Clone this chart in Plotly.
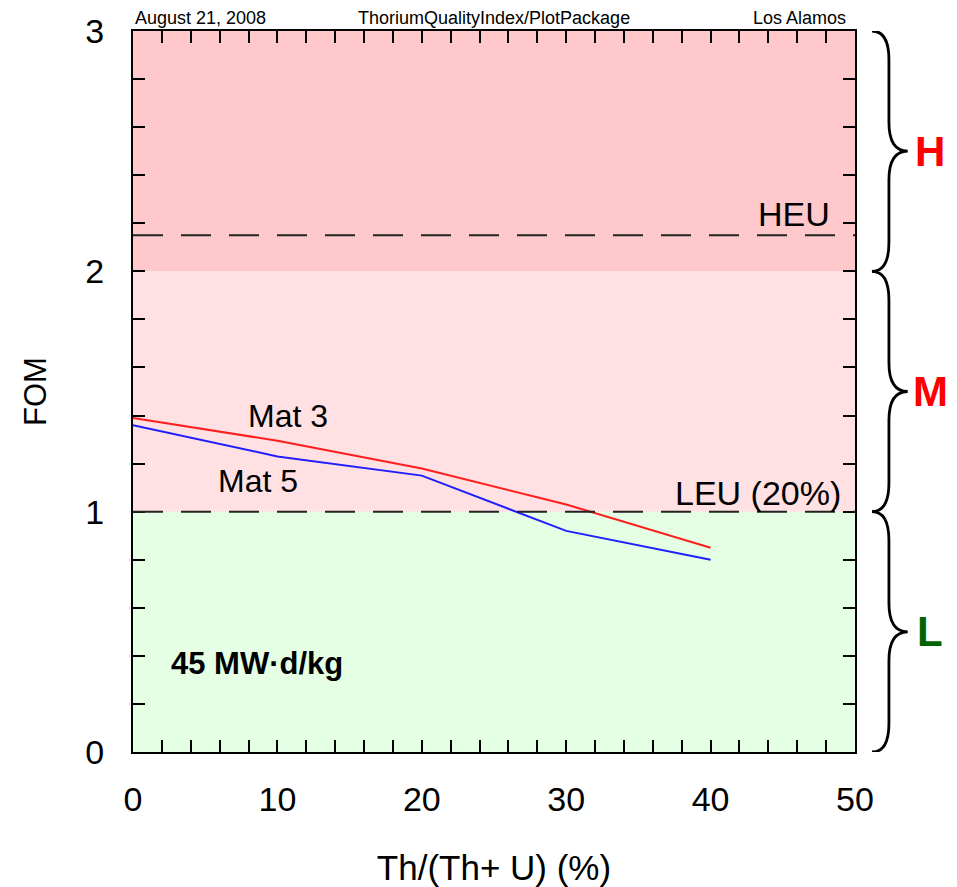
import plotly.graph_objects as go

# ---- data ----
th_frac = [0, 10, 20, 30, 40]
mat3_fom = [1.39, 1.295, 1.18, 1.03, 0.85]
mat5_fom = [1.36, 1.23, 1.15, 0.92, 0.80]

region_bounds = [0, 1, 2, 3]
region_labels = ["L", "M", "H"]
region_colors = ["rgb(228,255,228)", "rgb(255,224,227)", "rgb(255,200,202)"]
region_label_colors = ["#006400", "#FF0000", "#FF0000"]

heu_level = 2.15
leu_level = 1.0

x_ticks = [0, 10, 20, 30, 40, 50]
y_ticks = [0, 1, 2, 3]

NARROW = "Liberation Sans Narrow, Arial Narrow, Liberation Sans, Arial"
SANS = "Liberation Sans, Arial, Helvetica, sans-serif"

fig = go.Figure()

fig.add_trace(go.Scatter(x=th_frac, y=mat3_fom, mode="lines",
                         line=dict(color="rgb(255,30,30)", width=2),
                         name="Mat 3", showlegend=False))
fig.add_trace(go.Scatter(x=th_frac, y=mat5_fom, mode="lines",
                         line=dict(color="rgb(30,30,255)", width=2),
                         name="Mat 5", showlegend=False))

shapes = []
for i in range(3):
    shapes.append(dict(type="rect", xref="paper", yref="y", x0=0, x1=1,
                       y0=region_bounds[i], y1=region_bounds[i + 1],
                       fillcolor=region_colors[i], line=dict(width=0), layer="below"))
for lvl in [heu_level, leu_level]:
    shapes.append(dict(type="line", xref="paper", yref="y", x0=0, x1=1, y0=lvl, y1=lvl,
                       line=dict(color="#222", width=2, dash="30px,18px")))

# braces
bx0, bx1, bx2 = 1.0235, 1.047, 1.073
r = 0.12
for i in range(3):
    y0 = region_bounds[i]
    y1 = region_bounds[i + 1]
    ym = (y0 + y1) / 2
    path = (f"M {bx0},{y1} Q {bx1},{y1} {bx1},{y1 - r} "
            f"L {bx1},{ym + r} Q {bx1},{ym} {bx2},{ym} "
            f"Q {bx1},{ym} {bx1},{ym - r} "
            f"L {bx1},{y0 + r} Q {bx1},{y0} {bx0},{y0}")
    shapes.append(dict(type="path", xref="paper", yref="y", path=path,
                       line=dict(color="black", width=2.8)))

annotations = []
for i in range(3):
    annotations.append(dict(xref="paper", yref="y", x=1.104,
                            y=(region_bounds[i] + region_bounds[i + 1]) / 2,
                            text=f"<b>{region_labels[i]}</b>", showarrow=False,
                            font=dict(family=SANS, size=42, color=region_label_colors[i]),
                            xanchor="center", yanchor="middle"))

annotations += [
    dict(x=10.7, y=1.40, text="Mat 3", showarrow=False,
         font=dict(family=SANS, size=32, color="black")),
    dict(x=8.66, y=1.127, text="Mat 5", showarrow=False,
         font=dict(family=SANS, size=32, color="black")),
    dict(x=45.8, y=2.24, text="HEU", showarrow=False,
         font=dict(family=SANS, size=34, color="black")),
    dict(x=43.3, y=1.077, text="LEU (20%)", showarrow=False,
         font=dict(family=SANS, size=34, color="black")),
    dict(x=8.6, y=0.37, text="<b>45 MW·d/kg</b>", showarrow=False,
         font=dict(family=SANS, size=31, color="black")),
    dict(xref="paper", yref="paper", x=0, y=1.0, yshift=1, text="August 21, 2008",
         showarrow=False, xanchor="left", yanchor="bottom",
         font=dict(family=SANS, size=18, color="black")),
    dict(xref="paper", yref="paper", x=0.5, y=1.0, yshift=1,
         text="ThoriumQualityIndex/PlotPackage",
         showarrow=False, xanchor="center", yanchor="bottom",
         font=dict(family=SANS, size=18, color="black")),
    dict(xref="paper", yref="paper", x=0.99, y=1.0, yshift=1, text="Los Alamos",
         showarrow=False, xanchor="right", yanchor="bottom",
         font=dict(family=SANS, size=18, color="black")),
]

# the page body adds an 8px offset, so size and margins are reduced accordingly
fig.update_layout(
    width=949, height=879,
    margin=dict(l=125, r=102, t=23, b=135, autoexpand=False),
    plot_bgcolor="white", paper_bgcolor="white",
    shapes=shapes, annotations=annotations,
    xaxis=dict(range=[0, 50], tickvals=x_ticks, ticktext=[str(v) for v in x_ticks],
               showgrid=False, zeroline=False, automargin=False,
               showline=True, linecolor="black", linewidth=2, mirror="ticks",
               ticks="inside", ticklen=12, tickwidth=1.5, tickcolor="black",
               minor=dict(dtick=2, ticks="inside", ticklen=12, tickwidth=1.5, tickcolor="black"),
               tickfont=dict(family=NARROW, size=34, color="black"),
               ticklabelstandoff=16,
               title=dict(text="Th/(Th+ U) (%)", standoff=39,
                          font=dict(family=SANS, size=35, color="black"))),
    yaxis=dict(range=[0, 3], tickvals=y_ticks, ticktext=[str(v) for v in y_ticks],
               showgrid=False, zeroline=False, automargin=False,
               showline=True, linecolor="black", linewidth=2, mirror="ticks",
               ticks="inside", ticklen=12, tickwidth=1.5, tickcolor="black",
               minor=dict(dtick=0.2, ticks="inside", ticklen=12, tickwidth=1.5, tickcolor="black"),
               tickfont=dict(family=NARROW, size=34, color="black"),
               ticklabelstandoff=20,
               title=dict(text="FOM", standoff=29,
                          font=dict(family=SANS, size=31, color="black"))),
)

fig.write_html("out.html")
